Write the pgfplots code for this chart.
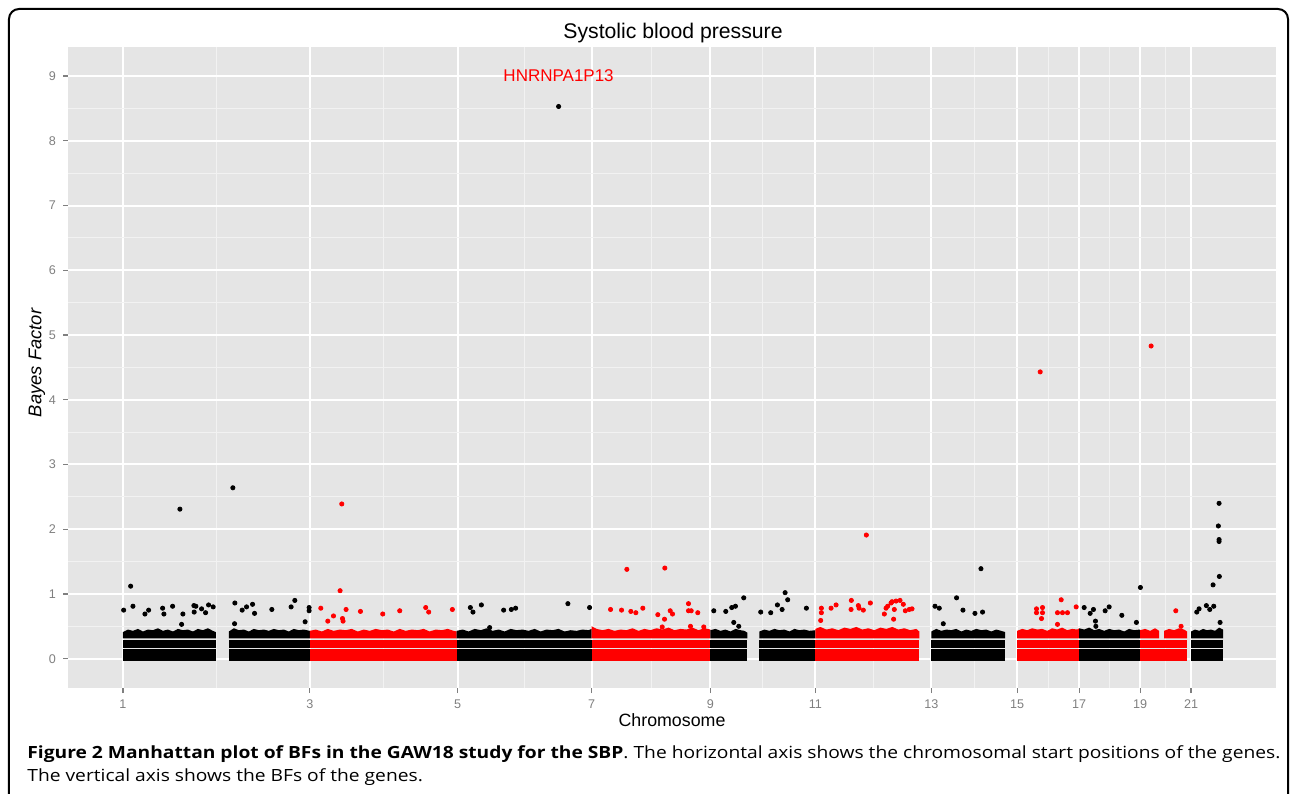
\documentclass[border=0pt]{standalone}
\usepackage{pgfplots}
\pgfplotsset{compat=1.18}
\usepackage{fontspec}
\setmainfont{Liberation Sans}
\newfontfamily\capfont{Open Sans}
\definecolor{panelgray}{HTML}{E5E5E5}
\definecolor{gridminor}{HTML}{F2F2F2}
\definecolor{tickgray}{HTML}{7F7F7F}
\definecolor{ptred}{HTML}{FF0000}
\newcommand{\band}[3]{%
 \addplot[draw=none,fill=#3,forget plot] coordinates {(#1,-0.035)(#2,-0.035)(#2,0.155)(#1,0.155)};
 \addplot[draw=none,fill=#3,forget plot] coordinates {(#1,0.168)(#2,0.168)(#2,0.296)(#1,0.296)};
}
\newsavebox\capA
\newsavebox\capB
\begin{document}
\sbox\capA{\capfont\fontsize{8.4}{10}\selectfont\textbf{Figure 2 Manhattan plot of BFs in the GAW18 study for the SBP}. The horizontal axis shows the chromosomal start positions of the genes.}%
\sbox\capB{\capfont\fontsize{8.4}{10}\selectfont The vertical axis shows the BFs of the genes.}%
\pgfmathsetmacro\capfac{626.5/\the\wd\capA}%
\begin{tikzpicture}
\begin{axis}[
 at={(0,0)}, anchor=south west,
 scale only axis, width=604pt, height=320.5pt,
 xmin=68, xmax=1277, ymin=-0.453, ymax=9.449,
 axis background/.style={fill=panelgray},
 axis line style={draw=none},
 xtick={123,310,458,592,711,816,932,1018,1080,1141,1192},
 xticklabels={1,3,5,7,9,11,13,15,17,19,21},
 minor xtick={216.5,384,525,651.5,763.5,874,975,1049,1110.5,1166.5},
 ytick={0,1,2,3,4,5,6,7,8,9},
 minor ytick={0.5,1.5,2.5,3.5,4.5,5.5,6.5,7.5,8.5},
 grid=both,
 major grid style={white, line width=1pt},
 minor grid style={gridminor, line width=0.5pt},
 tick style={tickgray, line width=0.6pt},
 major tick length=2.5pt, minor tick length=0pt,
 tick align=outside, tick pos=left,
 ticklabel style={font=\fontsize{6.3}{7}\selectfont, text=tickgray},
 /pgf/number format/assume math mode=true,
]
% ---- dense bands: bottom and middle rows
\band{123}{216}{black}
\band{229}{310}{black}
\band{310}{457}{ptred}
\band{457}{592}{black}
\band{592}{711}{ptred}
\band{711}{748}{black}
\band{760}{816}{black}
\band{816}{920}{ptred}
\band{932}{1006}{black}
\band{1018}{1080}{ptred}
\band{1080}{1141}{black}
\band{1141}{1188}{ptred}
\band{1192}{1224}{black}
% ---- top rows with ragged upper edge
\addplot[draw=none,fill=black,forget plot] coordinates {(123,0.312)(123,0.41)(128,0.45)(133,0.43)(138,0.46)(143,0.42)(148,0.45)(153,0.44)(158,0.47)(163,0.43)(168,0.45)(173,0.42)(178,0.46)(183,0.44)(188,0.45)(193,0.42)(198,0.46)(203,0.44)(208,0.47)(213,0.43)(216,0.41)(216,0.312)};
\addplot[draw=none,fill=black,forget plot] coordinates {(229,0.312)(229,0.42)(234,0.47)(239,0.44)(244,0.45)(249,0.42)(254,0.46)(259,0.44)(264,0.45)(269,0.43)(274,0.46)(279,0.44)(284,0.45)(289,0.42)(294,0.46)(299,0.44)(304,0.45)(310,0.43)(310,0.312)};
\addplot[draw=none,fill=ptred,forget plot] coordinates {(310,0.312)(310,0.43)(316,0.45)(322,0.42)(328,0.46)(334,0.43)(340,0.45)(346,0.44)(352,0.46)(358,0.42)(364,0.45)(370,0.43)(376,0.46)(382,0.44)(388,0.45)(394,0.42)(400,0.46)(406,0.43)(412,0.45)(418,0.44)(424,0.46)(430,0.42)(436,0.45)(442,0.44)(448,0.46)(454,0.43)(457,0.42)(457,0.312)};
\addplot[draw=none,fill=black,forget plot] coordinates {(457,0.312)(457,0.43)(463,0.45)(469,0.42)(475,0.46)(481,0.44)(487,0.47)(493,0.43)(499,0.45)(505,0.42)(511,0.46)(517,0.44)(523,0.45)(529,0.43)(535,0.46)(541,0.42)(547,0.45)(553,0.44)(559,0.46)(565,0.42)(571,0.44)(577,0.43)(583,0.45)(589,0.44)(592,0.46)(592,0.312)};
\addplot[draw=none,fill=ptred,forget plot] coordinates {(592,0.312)(592,0.50)(597,0.46)(603,0.44)(609,0.46)(615,0.43)(621,0.45)(627,0.44)(633,0.47)(639,0.43)(645,0.46)(651,0.44)(657,0.47)(663,0.45)(669,0.48)(675,0.44)(681,0.46)(687,0.45)(693,0.48)(699,0.44)(705,0.47)(711,0.45)(711,0.312)};
\addplot[draw=none,fill=black,forget plot] coordinates {(711,0.312)(711,0.44)(716,0.46)(721,0.43)(726,0.45)(731,0.42)(736,0.46)(741,0.44)(745,0.43)(748,0.40)(748,0.312)};
\addplot[draw=none,fill=black,forget plot] coordinates {(760,0.312)(760,0.42)(765,0.45)(770,0.43)(775,0.46)(780,0.44)(785,0.45)(790,0.42)(795,0.46)(800,0.44)(805,0.45)(810,0.43)(816,0.44)(816,0.312)};
\addplot[draw=none,fill=ptred,forget plot] coordinates {(816,0.312)(816,0.46)(821,0.49)(827,0.45)(833,0.47)(839,0.44)(845,0.48)(851,0.46)(857,0.49)(863,0.45)(869,0.47)(875,0.44)(881,0.48)(887,0.46)(893,0.49)(899,0.45)(905,0.47)(911,0.44)(917,0.46)(920,0.42)(920,0.312)};
\addplot[draw=none,fill=black,forget plot] coordinates {(932,0.312)(932,0.42)(937,0.46)(942,0.43)(947,0.45)(952,0.44)(957,0.46)(962,0.42)(967,0.45)(972,0.43)(977,0.46)(982,0.44)(987,0.45)(992,0.42)(997,0.45)(1002,0.43)(1006,0.41)(1006,0.312)};
\addplot[draw=none,fill=ptred,forget plot] coordinates {(1018,0.312)(1018,0.43)(1023,0.46)(1028,0.44)(1033,0.47)(1038,0.45)(1043,0.46)(1048,0.43)(1053,0.47)(1058,0.45)(1063,0.48)(1068,0.44)(1073,0.46)(1078,0.45)(1080,0.47)(1080,0.312)};
\addplot[draw=none,fill=black,forget plot] coordinates {(1080,0.312)(1080,0.47)(1085,0.45)(1090,0.48)(1095,0.44)(1100,0.46)(1105,0.43)(1110,0.46)(1115,0.44)(1120,0.45)(1125,0.42)(1130,0.46)(1135,0.44)(1141,0.45)(1141,0.312)};
\addplot[draw=none,fill=ptred,forget plot] coordinates {(1141,0.312)(1141,0.44)(1146,0.46)(1151,0.43)(1156,0.47)(1160,0.43)(1160,0.312)};
\addplot[draw=none,fill=ptred,forget plot] coordinates {(1165,0.312)(1165,0.43)(1170,0.46)(1175,0.44)(1180,0.47)(1185,0.45)(1188,0.42)(1188,0.312)};
\addplot[draw=none,fill=black,forget plot] coordinates {(1192,0.312)(1192,0.42)(1196,0.45)(1200,0.43)(1204,0.46)(1208,0.44)(1212,0.45)(1216,0.43)(1220,0.48)(1224,0.45)(1224,0.312)};
% ---- individual genes above the bands
\addplot[only marks, mark=*, mark size=1.05pt, black, forget plot] coordinates {
(130.7,1.12)(123.7,0.75)(133,0.81)(145,0.69)(148.7,0.75)(162.7,0.78)(164,0.69)(172.7,0.81)(183,0.69)(181.7,0.53)(194,0.82)(196,0.81)(194.3,0.72)(201.7,0.77)(205.7,0.71)(208.7,0.83)(213.3,0.80)(180,2.31)
(235,0.86)(242.3,0.75)(246.7,0.80)(252.7,0.84)(254.7,0.70)(272,0.76)(234.7,0.54)(291.3,0.80)(295,0.90)(309.3,0.79)(309.3,0.74)(305.3,0.57)(233,2.64)
(470.7,0.79)(473.3,0.72)(481.7,0.83)(490,0.48)(504,0.75)(511.7,0.76)(516,0.78)(568.3,0.85)(590,0.79)(559,8.53)
(714.3,0.74)(726.3,0.73)(732.3,0.79)(736,0.81)(744.3,0.94)(734.3,0.56)(739.3,0.50)(761.3,0.72)(771.3,0.71)(778,0.83)(782.7,0.76)(785.7,1.02)(788.3,0.91)(807,0.78)
(935.7,0.81)(940,0.78)(944,0.54)(957.3,0.94)(963.7,0.75)(975.7,0.70)(983.3,0.72)(981.7,1.39)
(1085,0.79)(1091,0.70)(1094.3,0.76)(1096.3,0.58)(1096.7,0.50)(1106,0.74)(1110,0.80)(1122.7,0.67)(1137.3,0.56)(1141.3,1.10)
(1197.7,0.72)(1200,0.77)(1207.3,0.82)(1210.7,0.76)(1214.7,0.81)(1214,1.14)(1220.3,1.27)(1221,0.56)(1220,2.40)(1219.3,2.05)(1220,1.84)(1220,1.81)
};
\addplot[only marks, mark=*, mark size=1.05pt, ptred, forget plot] coordinates {
(321,0.78)(333.7,0.66)(328,0.58)(340.3,1.05)(346.3,0.76)(342.7,0.62)(343.3,0.58)(360.7,0.73)(383,0.69)(400,0.74)(426,0.79)(429,0.72)(452.7,0.76)(342,2.39)
(611,0.76)(622,0.75)(631.3,0.73)(636.3,0.71)(643.3,0.78)(658.3,0.68)(665,0.61)(670.7,0.74)(673,0.69)(689,0.85)(689,0.74)(691.7,0.74)(691,0.50)(662.7,0.49)(698.3,0.71)(704.3,0.49)(627.3,1.38)(665.3,1.40)
(822,0.78)(822,0.71)(821.3,0.59)(831.7,0.78)(836.7,0.83)(852,0.90)(851.7,0.76)(859,0.82)(859.7,0.78)(864,0.75)(871,0.86)(886.7,0.78)(888.3,0.81)(891.7,0.86)(895,0.76)(896.7,0.89)(885,0.69)(894.3,0.61)(892.7,0.88)(900.7,0.90)(904,0.84)(910,0.76)(912.7,0.77)(906,0.74)(867,1.91)
(1037.3,0.77)(1037.3,0.71)(1043.3,0.79)(1043.3,0.71)(1042.3,0.62)(1062,0.91)(1058.3,0.71)(1063.3,0.71)(1068.3,0.71)(1077,0.80)(1058.3,0.53)(1041,4.43)
(1176.7,0.74)(1182,0.50)(1152,4.83)
};
\node[text=ptred, font=\fontsize{8.5}{10}\selectfont] at (axis cs:559,9.0) {HNRNPA1P13};
\end{axis}
\begin{scope}[x=0.5pt,y=-0.5pt,shift={(-34pt,344pt)}]
\draw[line width=1pt, rounded corners=5pt] (9,9) rectangle (1288,840);
\node[font=\fontsize{10.6}{12}\selectfont] at (673,33) {Systolic blood pressure};
\node[font=\fontsize{8.9}{10}\selectfont] at (672,720) {Chromosome};
\node[font=\fontsize{9.2}{10}\itshape, rotate=90] at (37,363) {Bayes Factor};
\node[anchor=base west, inner sep=0pt] at (27,758) {\scalebox{\capfac}[1]{\usebox\capA}};
\node[anchor=base west, inner sep=0pt] at (27,781) {\scalebox{\capfac}[1]{\usebox\capB}};
\end{scope}
\pgfresetboundingbox
\path[use as bounding box] (-34pt,-52.5pt) rectangle (611pt,344pt);
\end{tikzpicture}
\end{document}
